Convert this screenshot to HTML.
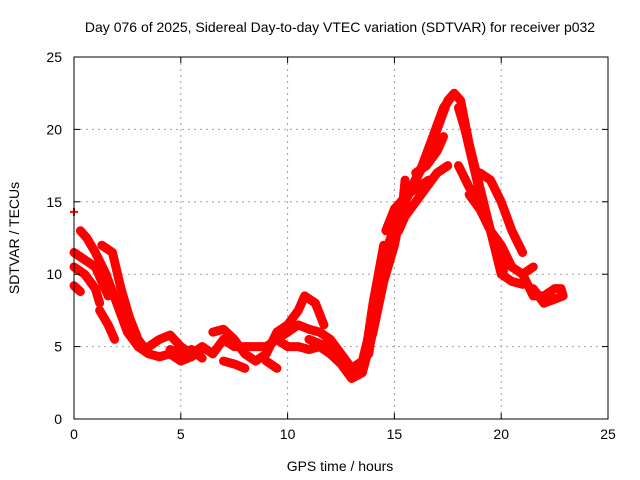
<!DOCTYPE html>
<html><head><meta charset="utf-8"><style>
body{margin:0;background:#fff;}
svg{display:block;font-family:"Liberation Sans",sans-serif;}
</style></head><body>
<svg id="chart" width="640" height="480">
<text x="340" y="32" font-size="14" text-anchor="middle">Day 076 of 2025, Sidereal Day-to-day VTEC variation (SDTVAR) for receiver p032</text>
<text x="340" y="471" font-size="14" text-anchor="middle">GPS time / hours</text>
<text transform="translate(19,238) rotate(-90)" font-size="14" text-anchor="middle">SDTVAR / TECUs</text>
<g id="grid"></g><g id="marks"></g><g id="axes"></g>
</svg>
<script>
const xTicks=[0,5,10,15,20,25];
const yTicks=[0,5,10,15,20,25];
const track1=[[0.3,13],[0.6,12.5],[1,11.5],[1.5,10],[2,8],[2.5,6],[3,5],[3.5,4.5],[4,4.3],[4.5,4.5],[5,4],[5.5,4.3],[6,4.8]];
const track2=[[0,11.5],[0.5,11],[1,10.5],[1.3,9.5],[1.6,8.5]];
const track3=[[0,10.5],[0.5,10],[1,9],[1.2,8]];
const track4=[[0,9.2],[0.3,8.8]];
const track5=[[1.2,7.5],[1.6,6.5],[1.9,5.5]];
const track6=[[1.3,12],[1.8,11.5],[2.2,9],[2.6,7],[3,5.5],[3.5,4.5]];
const track7=[[3.5,5],[4,5.5],[4.5,5.8],[5,5],[5.5,4.5],[6,5],[6.5,4.5],[7,5.5],[7.5,5],[8,5],[8.5,5],[9,5],[9.5,5.5],[10,6],[10.5,6.5],[11,6.2],[11.5,6],[12,5.5],[12.5,4.5],[13,3.5],[13.5,4],[14,7],[14.5,11],[15,13],[15.5,15],[16,16.5],[16.5,18],[17,20],[17.5,22],[17.8,22.5],[18.1,22],[18.5,19],[19,16],[19.5,13],[20,10],[20.5,9.5],[21,9.3]];
const track8=[[6.5,6],[7,6.2],[7.5,5.5],[8,4.5],[8.5,4],[9,4.5],[9.5,6],[10,6.5],[10.5,7.5],[10.8,8.5],[11.3,8],[11.7,6.5]];
const track9=[[9.5,5.5],[10,5],[10.5,5],[11,4.8],[11.5,5],[12,4.5],[12.5,3.8],[13,2.8],[13.5,3.2],[14,6],[14.5,9.5],[15,12],[15.4,15],[15.5,16.5]];
const track10=[[11,5.5],[11.5,5.2],[12,5],[12.5,4],[13,3],[13.6,4],[14,8],[14.5,12]];
const track11=[[15.2,13],[15.5,14],[16,15],[16.5,16],[17,17],[17.5,17.5]];
const track12=[[18,17.5],[18.5,16],[19,15],[19.5,13],[20,11],[20.5,10.5],[21,10],[21.5,10.5]];
const track13=[[19,17],[19.5,16.5],[20,15],[20.5,13],[21,11.5]];
const track14=[[18.5,15.5],[19,14.5],[19.5,13],[20,12],[20.5,10.5]];
const track15=[[21,10],[21.5,8.5],[22,8.5],[22.5,9],[22.8,9],[22.9,8.5],[22,8],[21.5,9]];
const track16=[[7,4],[7.5,3.8],[8,3.5]];
const track17=[[9,4],[9.5,3.5]];
const track18=[[16,17],[16.5,17.5],[17,18.5],[17.3,19.5]];
const track19=[[13.8,4.5],[14.2,8.5],[14.7,12],[15.2,14],[15.8,16],[16.3,17.5],[16.8,19.5],[17.3,21.5],[17.7,22.3]];
const track20=[[18,21.5],[18.3,20],[18.7,17.5],[19.1,15],[19.6,12.5],[20.1,10.2]];
const track21=[[4.5,4.8],[5,4.5],[5.5,4.8],[6,4.2]];
const track22=[[14.6,13],[15,14.5],[15.6,15.5],[16.1,16],[16.6,16.5]];
const singles=[[0,14.3]];
const tracks=[track1,track2,track3,track4,track5,track6,track7,track8,track9,track10,track11,track12,track13,track14,track15,track16,track17,track18,track19,track20,track21,track22];
const L=74,R=608,T=57,B=419;
const xs=v=>L+v/25*(R-L);
const ys=v=>B-v/25*(B-T);
const NS="http://www.w3.org/2000/svg";
function mk(t,a,p){const e=document.createElementNS(NS,t);for(const k in a)e.setAttribute(k,a[k]);p.appendChild(e);return e;}
const grid=document.getElementById('grid'),axes=document.getElementById('axes'),marks=document.getElementById('marks');
xTicks.forEach(v=>{
 if(v>0&&v<25){const g=mk('line',{x1:xs(v),x2:xs(v),y1:T,y2:B,stroke:'#a0a0a0','stroke-dasharray':'2,4'},grid);
 
 }
 const t=mk('text',{x:xs(v),y:B+20,'font-size':14,'text-anchor':'middle'},axes);t.textContent=v;
 
 
});
yTicks.forEach(v=>{
 if(v>0&&v<25){const g=mk('line',{x1:L,x2:R,y1:ys(v),y2:ys(v),stroke:'#a0a0a0','stroke-dasharray':'2,4'},grid);
 
 }
 const t=mk('text',{x:L-12,y:ys(v)+5,'font-size':14,'text-anchor':'end'},axes);t.textContent=v;
 
 
 mk('line',{x1:L,x2:L+6,y1:ys(v),y2:ys(v),stroke:'#000'},axes);
 mk('line',{x1:R,x2:R-6,y1:ys(v),y2:ys(v),stroke:'#000'},axes);
});
xTicks.forEach(v=>{mk('line',{x1:xs(v),x2:xs(v),y1:B,y2:B-6,stroke:'#000'},axes);mk('line',{x1:xs(v),x2:xs(v),y1:T,y2:T+6,stroke:'#000'},axes);});
const fr=mk('rect',{x:L,y:T,width:R-L,height:B-T,fill:'none',stroke:'#000'},axes);


tracks.forEach(tr=>{
 const pl=mk('polyline',{points:tr.map(p=>xs(p[0])+','+ys(p[1])).join(' '),fill:'none',stroke:'#ff0000','stroke-width':9,'stroke-linejoin':'round','stroke-linecap':'round'},marks);
 
 
});
singles.forEach(p=>{
 const x=xs(p[0]),y=ys(p[1]);
 const pt=mk('path',{d:`M${x-4},${y}H${x+4}M${x},${y-4}V${y+4}`,stroke:'#ff0000','stroke-width':2},marks);
 
 
});
</script>
</body></html>
